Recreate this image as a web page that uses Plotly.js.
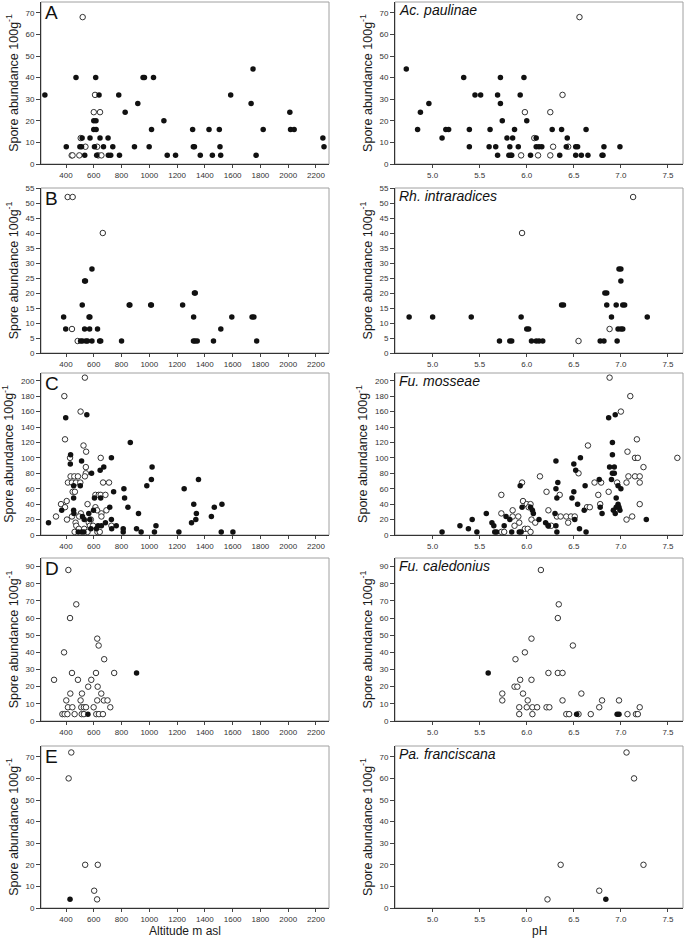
<!DOCTYPE html>
<html>
<head>
<meta charset="utf-8">
<script src="https://cdn.plot.ly/plotly-3.0.1.min.js"></script>
<style>html,body{margin:0;padding:0;background:#fff;}#chart{width:685px;height:938px;}</style>
</head>
<body>
<div id="chart"></div>
<script>
// ---------- DATA ----------
const panelLetters = ['A','B','C','D','E'];
const speciesNames = ['Ac. paulinae','Rh. intraradices','Fu. mosseae','Fu. caledonius','Pa. franciscana'];
const xTitles = ['Altitude m asl','pH'];
const altTicks = [400,600,800,1000,1200,1400,1600,1800,2000,2200];
const phTicks = [5.0,5.5,6.0,6.5,7.0,7.5];
const yTickStep = [10,5,20,10,10];
const yMax = [75,55,210,95,75];

// A: Ac. paulinae
const altA_fx = [248,402,472,500,512,516,535,573,600,616,600,617,614,605,638,621,645,670,703,705,722,737,780,785,826,893,917,955,965,999,1016,1030,1105,1129,1189,1312,1317,1325,1367,1430,1454,1504,1509,1514,1586,1733,1747,1769,1820,2012,2017,2043,2250,2258];
const altA_fy = [32,8,40,8,8,12,4,12,20,20,16,16,40,8,32,4,12,8,12,4,4,8,32,4,24,8,28,40,40,8,16,40,20,4,4,16,8,8,4,16,4,16,8,4,32,28,44,4,16,24,16,16,12,8];
const altA_ox = [441,447,496,506,540,520,609,600,645,624,632,655];
const altA_oy = [4,4,4,12,8,68,32,24,24,8,4,4];
const phA_fx = [4.72,4.84,4.87,4.96,5.10,5.14,5.17,5.33,5.45,5.51,5.39,5.39,5.61,5.60,5.67,5.69,5.69,5.72,5.72,5.74,5.79,5.82,5.81,5.83,5.84,5.85,5.87,5.91,5.93,5.97,6.00,6.04,6.10,6.10,6.13,6.16,6.27,6.35,6.37,6.43,6.42,6.52,6.54,6.52,6.58,6.63,6.65,6.80,6.81,6.82,6.99];
const phA_fy = [44,16,24,28,12,16,16,40,32,32,16,8,16,8,8,4,32,40,28,20,12,8,4,4,4,12,16,8,32,40,20,4,12,8,8,8,16,4,16,12,8,8,8,4,4,16,4,4,4,8,8];
const phA_ox = [5.94,5.98,6.08,6.12,6.25,6.25,6.28,6.38,6.44,6.56];
const phA_oy = [4,24,12,4,24,4,8,32,8,68];

// B: Rh. intraradices
const altB_fx = [383,398,505,518,517,534,540,534,543,555,566,572,570,587,587,627,642,650,800,855,860,1010,1015,1240,1319,1325,1331,1318,1330,1345,1462,1515,1594,1740,1753,1773];
const altB_fy = [12,8,4,4,16,24,24,8,4,4,12,12,8,28,4,8,4,4,4,16,16,16,16,16,12,20,20,4,4,4,4,8,12,12,12,4];
const altB_ox = [412,448,665,443,484];
const altB_oy = [52,52,40,8,4];
const phB_fx = [4.75,5.00,5.41,5.71,5.82,5.84,5.94,6.00,6.02,6.05,6.10,6.13,6.17,6.37,6.39,6.78,6.82,6.83,6.85,6.85,6.90,6.95,6.96,6.97,7.00,7.02,6.98,7.00,7.00,7.02,7.04,7.28];
const phB_fy = [12,12,12,4,4,4,12,8,8,4,4,4,4,16,16,4,4,20,20,16,12,16,4,8,8,8,28,28,24,16,16,12];
const phB_ox = [5.95,6.55,6.88,7.13];
const phB_oy = [40,4,8,52];

// C: Fu. mosseae
const altC_fx = [550,398,863,433,727,512,431,672,1020,646,584,1015,1354,455,503,982,817,1251,743,455,605,650,822,1320,1523,846,1468,715,369,455,598,457,564,922,1339,519,1447,531,572,727,1335,274,684,1304,631,655,762,1048,579,619,729,812,908,488,512,529,812,941,1037,1213,1518,1602];
const altC_fy = [156,152,120,104,100,96,92,88,88,84,80,72,72,64,64,64,60,60,56,48,48,48,48,40,40,36,36,36,32,32,32,28,28,28,28,24,24,20,20,20,20,16,16,16,12,12,12,12,8,8,8,8,8,4,4,4,4,4,4,4,4,4];
const altC_ox = [536,388,505,393,526,545,429,650,543,543,433,460,486,536,414,443,472,503,667,710,448,464,612,636,650,684,405,364,555,393,612,624,691,507,655,328,443,495,655,407,579,469,564,474,572,595,727,493,531,462,555,626,643];
const altC_oy = [204,180,160,124,116,108,100,100,88,80,76,76,76,76,68,68,68,68,68,68,56,56,52,52,52,52,44,40,40,36,36,32,32,28,28,24,24,24,24,20,20,16,16,12,12,12,12,8,8,4,4,4,4];
const phC_fx = [6.94,6.87,6.91,6.91,6.57,6.31,6.50,6.88,6.93,6.52,6.91,6.93,6.77,6.90,6.33,5.93,6.62,6.97,6.31,7.00,6.50,6.32,6.48,6.95,6.54,6.97,5.95,6.04,6.78,6.95,6.98,6.06,6.61,6.92,6.99,5.57,6.07,6.30,6.80,6.94,5.78,5.42,5.82,6.13,6.51,7.27,5.63,6.20,5.29,5.65,5.76,6.23,6.31,5.38,6.56,5.10,5.47,5.66,5.68,5.84,5.92,5.94,6.32,6.63];
const phC_fy = [156,152,120,104,100,96,92,88,88,84,80,80,72,72,68,64,64,64,60,60,56,48,48,48,40,40,36,36,36,36,36,32,32,32,32,28,28,28,28,28,24,20,20,20,20,20,16,16,12,12,12,12,12,8,8,4,4,4,4,4,4,4,4,4];
const phC_ox = [6.88,7.10,7.00,7.17,6.65,7.07,7.15,7.18,7.60,7.24,6.55,6.14,7.08,7.15,7.20,5.95,6.72,6.79,6.96,7.06,7.20,6.21,6.87,5.73,6.35,6.76,5.96,6.00,6.04,6.78,7.20,6.02,6.64,6.67,5.85,6.23,5.73,5.85,5.91,6.32,6.36,6.42,6.47,6.51,7.12,6.05,7.06,5.92,6.09,6.44,5.87,6.23,6.26,5.98,6.01,5.73,5.76,6.04];
const phC_oy = [204,180,160,124,116,108,100,100,100,88,80,76,76,76,76,68,68,68,68,68,68,56,56,52,52,52,44,40,40,40,40,36,36,36,32,32,28,24,24,24,24,24,24,24,24,20,20,16,16,16,12,12,12,8,8,4,4,4];

// D: Fu. caledonius
const altD_fx = [908,558];
const altD_fy = [28,4];
const altD_ox = [417,474,429,625,635,386,675,443,616,747,314,486,582,560,628,431,515,654,402,505,625,673,699,414,446,510,529,544,599,719,374,390,410,462,513,529,618,637,666];
const altD_oy = [88,68,60,48,44,40,36,28,28,28,24,24,24,20,20,16,16,16,12,12,12,12,12,8,8,8,8,8,8,8,4,4,4,4,4,4,4,4,4];
const phD_fx = [5.59,6.53,6.96,6.98];
const phD_fy = [28,4,4,4];
const phD_ox = [6.15,6.34,6.33,6.05,6.49,5.98,5.88,6.23,6.33,6.38,5.93,6.05,5.87,5.90,5.74,5.96,6.58,5.74,6.01,6.38,6.80,6.98,5.92,6.00,6.06,6.11,6.21,6.24,6.77,7.20,5.92,6.06,6.42,6.45,6.55,6.68,7.07,7.16,7.18];
const phD_oy = [88,68,60,48,44,40,36,28,28,28,24,24,20,20,16,16,16,12,12,12,12,12,8,8,8,8,8,8,8,8,4,4,4,4,4,4,4,4,4];

// E: Pa. franciscana
const altE_fx = [429];
const altE_fy = [4];
const altE_ox = [438,419,538,629,603,624];
const altE_oy = [72,60,20,20,8,4];
const phE_fx = [6.84];
const phE_fy = [4];
const phE_ox = [7.06,7.14,6.36,7.24,6.77,6.22];
const phE_oy = [72,60,20,20,8,4];

// ---------- BUILD ----------
const altSets = [
  [altA_fx,altA_fy,altA_ox,altA_oy],[altB_fx,altB_fy,altB_ox,altB_oy],[altC_fx,altC_fy,altC_ox,altC_oy],
  [altD_fx,altD_fy,altD_ox,altD_oy],[altE_fx,altE_fy,altE_ox,altE_oy]];
const phSets = [
  [phA_fx,phA_fy,phA_ox,phA_oy],[phB_fx,phB_fy,phB_ox,phB_oy],[phC_fx,phC_fy,phC_ox,phC_oy],
  [phD_fx,phD_fy,phD_ox,phD_oy],[phE_fx,phE_fy,phE_ox,phE_oy]];

const W = 685, H = 938;
const leftDom = [41/W, 329/W];
const rightDom = [395/W, 683/W];
const rowPx = [[2,164],[188,353],[373,535],[558,721],[746,908]];

const FONT = 'Liberation Sans, Arial, sans-serif';
const traces = [];
const layout = {
  width: W, height: H,
  margin: {l:0, r:0, t:0, b:0},
  paper_bgcolor: '#fff', plot_bgcolor: '#fff',
  showlegend: false,
  font: {family: FONT, color: '#222'},
  shapes: [], annotations: []
};

function addPts(xs, ys, ax, filled) {
  traces.push({
    type: 'scatter', mode: 'markers', x: xs, y: ys,
    xaxis: 'x' + (ax === 1 ? '' : ax), yaxis: 'y' + (ax === 1 ? '' : ax),
    hoverinfo: 'skip',
    marker: filled
      ? {symbol: 'circle', size: 5.5, color: '#111', line: {width: 0}}
      : {symbol: 'circle', size: 5.5, color: '#fff', line: {width: 1, color: '#333'}}
  });
}

for (let r = 0; r < 5; r++) {
  const yd = [1 - rowPx[r][1]/H, 1 - rowPx[r][0]/H];
  for (let side = 0; side < 2; side++) {
    const ax = r*2 + side + 1;
    const key = ax === 1 ? '' : ax;
    const sets = side === 0 ? altSets[r] : phSets[r];
    addPts(sets[2], sets[3], ax, false);
    addPts(sets[0], sets[1], ax, true);
    layout['xaxis' + key] = {
      domain: side === 0 ? leftDom : rightDom,
      anchor: 'y' + key,
      range: side === 0 ? [220, 2294] : [4.6, 7.66],
      tickvals: side === 0 ? altTicks : phTicks,
      tickformat: side === 0 ? 'd' : '.1f',
      showgrid: false, zeroline: false,
      showline: true, linecolor: '#333', linewidth: 1,
      ticks: 'outside', ticklen: 3, tickwidth: 1, tickcolor: '#444',
      tickfont: {size: 8, color: '#333', family: FONT},
      automargin: false
    };
    layout['yaxis' + key] = {
      domain: yd,
      anchor: 'x' + key,
      range: [0, yMax[r]],
      dtick: yTickStep[r], tick0: 0,
      showgrid: false, zeroline: false,
      showline: true, linecolor: '#333', linewidth: 1,
      ticks: 'outside', ticklen: 4, tickwidth: 1, tickcolor: '#444',
      tickfont: {size: 8, color: '#333', family: FONT},
      automargin: false,
      title: {text: 'Spore abundance 100g<sup>-1</sup>', font: {size: 12.5, color: '#1a1a1a', family: FONT}, standoff: 4}
    };
    layout.shapes.push({
      type: 'rect', xref: 'x' + key + ' domain', yref: 'y' + key + ' domain',
      x0: 0, x1: 1, y0: 0, y1: 1, layer: 'below',
      line: {color: '#a0a0a0', width: 1}
    });
    layout.annotations.push(side === 0 ? {
      text: panelLetters[r], xref: 'x' + key + ' domain', yref: 'y' + key + ' domain',
      x: 0, y: 1, xanchor: 'left', yanchor: 'top', xshift: 2, yshift: 2, showarrow: false,
      font: {size: 19, color: '#111', family: FONT}
    } : {
      text: '<i>' + speciesNames[r] + '</i>', xref: 'x' + key + ' domain', yref: 'y' + key + ' domain',
      x: 0, y: 1, xanchor: 'left', yanchor: 'top', xshift: 2, yshift: 2, showarrow: false,
      font: {size: 14, color: '#111', family: FONT}
    });
    if (r === 4) {
      layout.annotations.push({
        text: xTitles[side], xref: 'x' + key + ' domain', yref: 'paper',
        x: 0.5, y: 0, xanchor: 'center', yanchor: 'bottom', yshift: -2, showarrow: false,
        font: {size: 12, color: '#1a1a1a', family: FONT}
      });
    }
  }
}

Plotly.newPlot('chart', traces, layout, {staticPlot: true, displayModeBar: false});
</script>
</body>
</html>
